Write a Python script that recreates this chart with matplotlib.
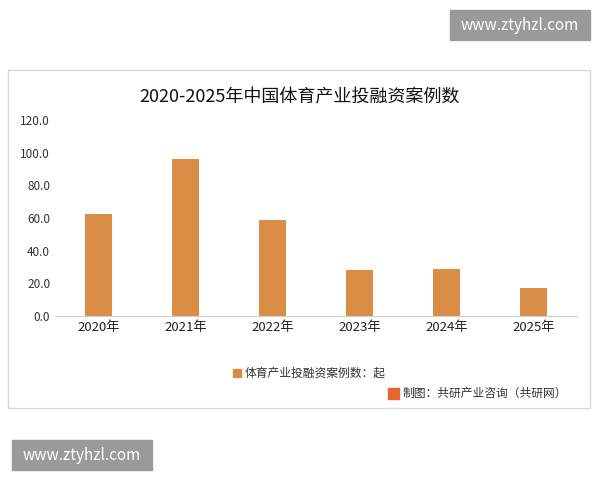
import matplotlib
matplotlib.use("Agg")
import matplotlib.pyplot as plt
from matplotlib.patches import Rectangle

plt.rcParams['font.family'] = ['Noto Sans CJK SC', 'DejaVu Sans']

years = ["2020年", "2021年", "2022年", "2023年", "2024年", "2025年"]
values = [62.5, 96.0, 59.0, 28.0, 29.0, 17.0]
yticks = [0, 20, 40, 60, 80, 100, 120]

fig = plt.figure(figsize=(6, 4.8), dpi=100)
fig.patches.append(Rectangle((8/600, 1-408/480), 582/600, 338/480, transform=fig.transFigure,
                             fill=False, edgecolor='#d9d9d9', lw=1))
ax = fig.add_axes([55/600, 1-316/480, 522/600, 196/480])
color = '#d98d45'
ax.bar(range(len(years)), values, width=0.31, color=color)
ax.set_ylim(0, 120)
ax.set_xlim(-0.5, len(years)-0.5)
ax.set_yticks(yticks)
ax.set_yticklabels([f"{v:.1f}" for v in yticks], fontsize=8.5, color='#333333')
ax.set_xticks(range(len(years)))
ax.set_xticklabels(years, fontsize=9.5, color='#222222')
ax.tick_params(length=0)
for s in ['top', 'right', 'left']:
    ax.spines[s].set_visible(False)
ax.spines['bottom'].set_color('#d0d0d0')

fig.text(0.5, 1-97/480, "2020-2025年中国体育产业投融资案例数", ha='center', va='center', fontsize=13, color='#111111')
fig.patches.append(Rectangle((233/600, 1-377/480), 8/600, 8/480, transform=fig.transFigure, color=color))
fig.text(245/600, 1-373/480, "体育产业投融资案例数：起", va='center', fontsize=8.5, color='#333333')
fig.patches.append(Rectangle((388/600, 1-399/480), 11/600, 11/480, transform=fig.transFigure, color='#e8662c'))
fig.text(403/600, 1-393/480, "制图：共研产业咨询（共研网）", va='center', fontsize=8.5, color='#333333')

fig.patches.append(Rectangle((450/600, 1-40/480), 140/600, 30/480, transform=fig.transFigure, color='#9a9a9a'))
fig.text(520/600, 1-25/480, "www.ztyhzl.com", ha='center', va='center', fontsize=11, color='white')
fig.patches.append(Rectangle((12/600, 1-470/480), 140/600, 30/480, transform=fig.transFigure, color='#9a9a9a'))
fig.text(82/600, 1-455/480, "www.ztyhzl.com", ha='center', va='center', fontsize=11, color='white')

fig.savefig("out.png", dpi=100)
